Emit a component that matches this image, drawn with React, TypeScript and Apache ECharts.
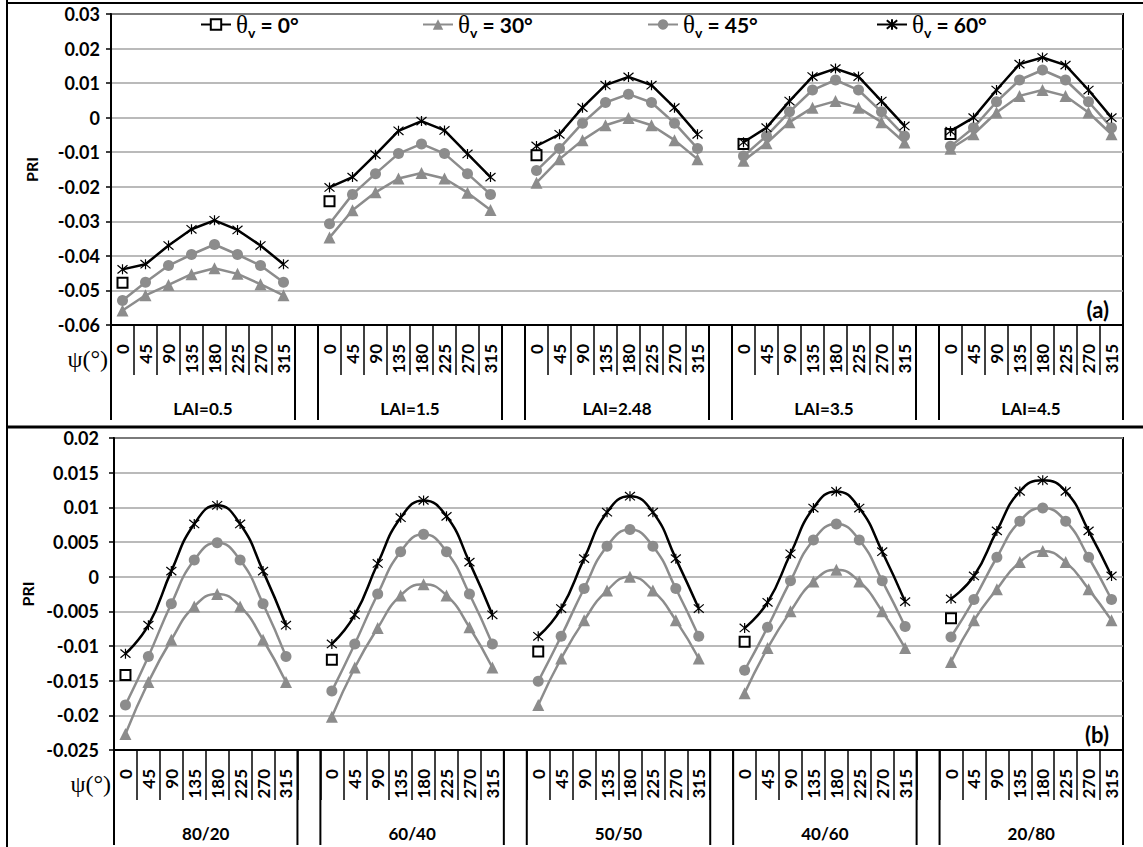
import React, { useEffect, useRef } from "react";
import * as echarts from "echarts";

const psiLabels = ["0", "45", "90", "135", "180", "225", "270", "315"];
const laiGroups = ["LAI=0.5", "LAI=1.5", "LAI=2.48", "LAI=3.5", "LAI=4.5"];
const ratioGroups = ["80/20", "60/40", "50/50", "40/60", "20/80"];
const thetaNames = ["θv = 0°", "θv = 30°", "θv = 45°", "θv = 60°"];

// Panel (a): PRI vs LAI
const a0 = [-0.0478, -0.0242, -0.0109, -0.0076, -0.0047];
const a30 = [
  [-0.0558, -0.0514, -0.0484, -0.0453, -0.0436, -0.0452, -0.0482, -0.0514],
  [-0.0347, -0.0268, -0.0216, -0.0176, -0.016, -0.0176, -0.0217, -0.0267],
  [-0.0188, -0.012, -0.0065, -0.0022, -0.0001, -0.0022, -0.0065, -0.012],
  [-0.0125, -0.0074, -0.0013, 0.0029, 0.0048, 0.0029, -0.0013, -0.0072],
  [-0.009, -0.0048, 0.0015, 0.0063, 0.008, 0.0063, 0.0015, -0.0048],
];
const a45 = [
  [-0.0529, -0.0476, -0.0428, -0.0396, -0.0367, -0.0396, -0.0428, -0.0476],
  [-0.0307, -0.0222, -0.0162, -0.0104, -0.0076, -0.0104, -0.0162, -0.0222],
  [-0.0153, -0.0089, -0.0016, 0.0044, 0.0068, 0.0044, -0.0016, -0.0089],
  [-0.0111, -0.0053, 0.0017, 0.008, 0.0109, 0.008, 0.0017, -0.0053],
  [-0.0083, -0.0029, 0.0046, 0.0109, 0.0138, 0.0109, 0.0046, -0.0029],
];
const a60 = [
  [-0.0439, -0.0424, -0.037, -0.0323, -0.0297, -0.0325, -0.037, -0.0424],
  [-0.0202, -0.0172, -0.0107, -0.0038, -0.001, -0.0037, -0.0105, -0.0172],
  [-0.0082, -0.0048, 0.0029, 0.0094, 0.0118, 0.0094, 0.0029, -0.0048],
  [-0.0071, -0.0029, 0.0048, 0.0119, 0.0142, 0.0119, 0.0048, -0.0024],
  [-0.0039, 0.0, 0.008, 0.0155, 0.0174, 0.0152, 0.008, 0.0],
];

// Panel (b): PRI vs mixture ratio
const b0 = [-0.0142, -0.012, -0.0108, -0.0094, -0.006];
const b30 = [
  [-0.0227, -0.0152, -0.0091, -0.0043, -0.0025, -0.0043, -0.0091, -0.0152],
  [-0.0202, -0.0131, -0.0074, -0.0027, -0.0011, -0.0027, -0.0073, -0.0131],
  [-0.0185, -0.0118, -0.0063, -0.002, 0.0, -0.002, -0.0063, -0.0118],
  [-0.0168, -0.0103, -0.005, -0.0007, 0.001, -0.0007, -0.005, -0.0103],
  [-0.0123, -0.0063, -0.0018, 0.0021, 0.0037, 0.0021, -0.0018, -0.0063],
];
const b45 = [
  [-0.0185, -0.0115, -0.0039, 0.0024, 0.0049, 0.0024, -0.0039, -0.0115],
  [-0.0165, -0.0097, -0.0025, 0.0036, 0.0061, 0.0036, -0.0025, -0.0097],
  [-0.0151, -0.0086, -0.0017, 0.0044, 0.0068, 0.0044, -0.0017, -0.0086],
  [-0.0135, -0.0073, -0.0006, 0.0053, 0.0076, 0.0053, -0.0006, -0.0072],
  [-0.0087, -0.0033, 0.0028, 0.008, 0.0099, 0.008, 0.0028, -0.0033],
];
const b60 = [
  [-0.0111, -0.007, 0.0008, 0.0076, 0.0103, 0.0076, 0.0008, -0.007],
  [-0.0097, -0.0055, 0.0019, 0.0085, 0.011, 0.0087, 0.0021, -0.0055],
  [-0.0086, -0.0046, 0.0026, 0.0093, 0.0116, 0.0093, 0.0026, -0.0046],
  [-0.0074, -0.0037, 0.0033, 0.0099, 0.0123, 0.0099, 0.0036, -0.0036],
  [-0.0032, 0.0001, 0.0066, 0.0123, 0.0139, 0.0123, 0.0066, 0.0001],
];

const yRangeA = { min: -0.06, max: 0.03, interval: 0.01 };
const yRangeB = { min: -0.025, max: 0.02, interval: 0.005 };

const GRAY = "#8c8c8c";
const SANS = "Lato";
const SERIF = "Liberation Serif";
const STAR = "path://M0,0L10,10M10,0L0,10M5,-1L5,11";

function buildCats(n: number) {
  const out: string[] = [];
  for (let i = 0; i < n; i++) {
    out.push(...psiLabels);
    if (i < n - 1) out.push("");
  }
  return out;
}
function buildRow(groups: number[][]) {
  const out: (number | null)[] = [];
  groups.forEach((g, i) => {
    out.push(...g);
    if (i < groups.length - 1) out.push(null);
  });
  return out;
}
function buildFirst(vals: number[]) {
  const out: (number | null)[] = [];
  vals.forEach((v, i) => {
    out.push(v);
    for (let k = 1; k < psiLabels.length; k++) out.push(null);
    if (i < vals.length - 1) out.push(null);
  });
  return out;
}

function makeSeries(idx: number, smooth: boolean, d0: number[], d30: number[][], d45: number[][], d60: number[][]) {
  const common = {
    type: "line" as const,
    xAxisIndex: idx,
    yAxisIndex: idx,
    connectNulls: false,
    showAllSymbol: true,
    smooth,
    emphasis: { disabled: true },
  };
  return [
    {
      ...common,
      name: thetaNames[0],
      data: buildFirst(d0),
      symbol: "rect",
      symbolSize: 10,
      lineStyle: { color: "#000", width: 2.5 },
      itemStyle: { color: "#fff", borderColor: "#000", borderWidth: 2 },
      z: 2,
    },
    {
      ...common,
      name: thetaNames[1],
      data: buildRow(d30),
      symbol: "triangle",
      symbolSize: 12,
      lineStyle: { color: GRAY, width: 2.5 },
      itemStyle: { color: GRAY, borderWidth: 0 },
      z: 3,
    },
    {
      ...common,
      name: thetaNames[2],
      data: buildRow(d45),
      symbol: "circle",
      symbolSize: 11,
      lineStyle: { color: GRAY, width: 2.5 },
      itemStyle: { color: GRAY, borderWidth: 0 },
      z: 4,
    },
    {
      ...common,
      name: thetaNames[3],
      data: buildRow(d60),
      symbol: STAR,
      symbolSize: 10,
      lineStyle: { color: "#000", width: 2.5 },
      itemStyle: { color: "#000", borderColor: "#000", borderWidth: 1.2 },
      z: 5,
    },
  ];
}

const fmt = (v: number) => String(Number(v.toFixed(4)));

function yAxis(idx: number, r: { min: number; max: number; interval: number }, margin: number, nameGap: number) {
  return {
    type: "value" as const,
    gridIndex: idx,
    min: r.min,
    max: r.max,
    interval: r.interval,
    name: "PRI",
    nameLocation: "middle" as const,
    nameRotate: 90,
    nameGap,
    nameTextStyle: { fontFamily: SANS, fontWeight: "bold", fontSize: 16, color: "#000" },
    axisLine: { show: true, onZero: false, lineStyle: { color: "#000", width: 2 } },
    axisTick: { show: true, length: 5, lineStyle: { color: "#000", width: 1.5 } },
    axisLabel: {
      margin,
      formatter: fmt,
      fontFamily: SANS,
      fontWeight: "bold",
      fontSize: 18,
      color: "#000",
    },
    splitLine: { show: true, lineStyle: { color: "#a3a3a3", width: 1.5 } },
  };
}

function xAxis(idx: number, n: number) {
  return {
    type: "category" as const,
    gridIndex: idx,
    data: buildCats(n),
    boundaryGap: true,
    axisLine: { show: true, onZero: false, lineStyle: { color: "#000", width: 2 } },
    axisTick: { show: true, interval: 0, length: 50, lineStyle: { color: "#000", width: 1.5 } },
    axisLabel: {
      interval: 0,
      rotate: 90,
      margin: 19,
      fontFamily: SANS,
      fontWeight: "bold",
      fontSize: 17,
      color: "#000",
    },
    splitLine: { show: false },
  };
}

const legendRich = {
  t: { fontFamily: SERIF, fontSize: 25, color: "#000", verticalAlign: "middle", lineHeight: 30 },
  s: { fontFamily: SANS, fontWeight: "bold", fontSize: 14, color: "#000", verticalAlign: "bottom", lineHeight: 30 },
  n: { fontFamily: SANS, fontWeight: "bold", fontSize: 21, color: "#000", verticalAlign: "middle", lineHeight: 30 },
};
const legendPos = [200, 422, 647, 876];

export default function App() {
  const ref = useRef<HTMLDivElement>(null);
  useEffect(() => {
    if (!ref.current) return;
    const chart = echarts.init(ref.current, null, { renderer: "svg" });
    const option: any = {
      animation: false,
      backgroundColor: "#fff",
      grid: [
        { left: 111, top: 14, width: 1012, height: 311, show: true, borderColor: "#000", borderWidth: 2, backgroundColor: "transparent" },
        { left: 114, top: 438, width: 1009, height: 312, show: true, borderColor: "#000", borderWidth: 2, backgroundColor: "transparent" },
      ],
      legend: thetaNames.map((nm, i) => ({
        data: [nm],
        left: legendPos[i],
        top: 12,
        itemWidth: 30,
        itemHeight: 13,
        itemGap: 0,
        padding: 0,
        formatter: (name: string) => `{t|θ}{s|v}{n| = ${name.split("= ")[1]}}`,
        textStyle: { rich: legendRich },
        selectedMode: false,
      })),
      xAxis: [xAxis(0, laiGroups.length), xAxis(1, ratioGroups.length)],
      yAxis: [yAxis(0, yRangeA, 11, 72), yAxis(1, yRangeB, 15, 75)],
      series: [
        ...makeSeries(0, false, a0, a30, a45, a60),
        ...makeSeries(1, true, b0, b30, b45, b60),
      ],
    };
    chart.setOption(option);

    const graphics: any[] = [
      { type: "line", shape: { x1: 7, y1: 0, x2: 7, y2: 847 }, style: { stroke: "#000", lineWidth: 2 } },
      { type: "line", shape: { x1: 6, y1: 3, x2: 1143, y2: 3 }, style: { stroke: "#000", lineWidth: 2 } },
      { type: "line", shape: { x1: 6, y1: 427, x2: 1143, y2: 427 }, style: { stroke: "#000", lineWidth: 3 } },
    ];
    const groupSets = [laiGroups, ratioGroups];
    const yMins = [yRangeA.min, yRangeB.min];
    const panelTags = ["(a)", "(b)"];
    [0, 1].forEach((gi) => {
      const c0 = chart.convertToPixel({ xAxisIndex: gi }, 0) as number;
      const c1 = chart.convertToPixel({ xAxisIndex: gi }, 1) as number;
      const bw = c1 - c0;
      const edge = (k: number) => c0 - bw / 2 + k * bw;
      const yBase = chart.convertToPixel({ yAxisIndex: gi }, yMins[gi]) as number;
      const per = psiLabels.length;
      groupSets[gi].forEach((name, i) => {
        const s = edge(i * (per + 1));
        const e = edge(i * (per + 1) + per);
        [s, e].forEach((x) =>
          graphics.push({
            type: "line",
            shape: { x1: x, y1: yBase, x2: x, y2: yBase + 95 },
            style: { stroke: "#000", lineWidth: 2 },
          })
        );
        graphics.push({
          type: "text",
          x: (s + e) / 2,
          y: yBase + 83,
          style: {
            text: name,
            align: "center",
            verticalAlign: "middle",
            font: `bold 17px ${SANS}`,
            fill: "#000",
          },
        });
      });
      graphics.push({
        type: "text",
        x: edge(0) - 3,
        y: yBase + 34,
        style: {
          text: "ψ(°)",
          align: "right",
          verticalAlign: "middle",
          font: `24px ${SERIF}`,
          fill: "#000",
        },
      });
      const right = edge(groupSets[gi].length * (per + 1) - 1);
      graphics.push({
        type: "text",
        x: right - 14,
        y: yBase - 16,
        style: {
          text: panelTags[gi],
          align: "right",
          verticalAlign: "middle",
          font: `bold 22px ${SANS}`,
          fill: "#000",
        },
      });
    });
    chart.setOption({ graphic: graphics });
    return () => chart.dispose();
  }, []);
  return (
    <div
      ref={ref}
      style={{ position: "fixed", left: 0, top: 0, width: 1143, height: 847, background: "#fff" }}
    />
  );
}
